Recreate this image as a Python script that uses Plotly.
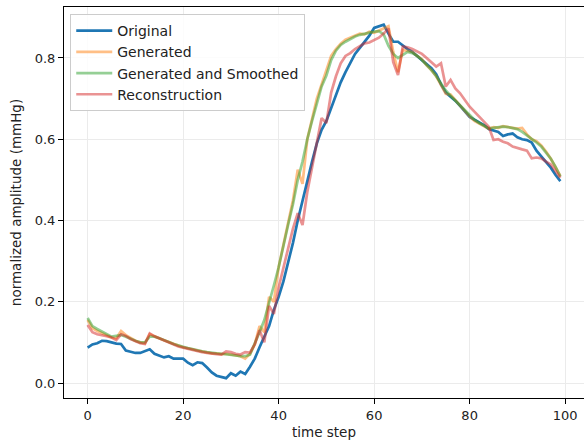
import plotly.graph_objects as go

steps = list(range(100))

original = [
    0.087, 0.095, 0.098, 0.104, 0.103, 0.100, 0.097, 0.096, 0.080, 0.077,
    0.074, 0.074, 0.079, 0.083, 0.072, 0.067, 0.063, 0.066, 0.060, 0.060,
    0.060, 0.050, 0.044, 0.051, 0.049, 0.038, 0.026, 0.018, 0.015, 0.012,
    0.024, 0.018, 0.028, 0.022, 0.040, 0.060, 0.088, 0.112, 0.140, 0.180,
    0.212, 0.250, 0.295, 0.345, 0.400, 0.450, 0.500, 0.545, 0.590, 0.623,
    0.645, 0.675, 0.710, 0.740, 0.765, 0.787, 0.810, 0.825, 0.840, 0.855,
    0.874, 0.878, 0.882, 0.860, 0.840, 0.840, 0.830, 0.822, 0.815, 0.805,
    0.795, 0.785, 0.775, 0.760, 0.735, 0.715, 0.705, 0.695, 0.682, 0.668,
    0.655, 0.648, 0.642, 0.635, 0.625, 0.622, 0.618, 0.608, 0.612, 0.614,
    0.605, 0.600, 0.598, 0.592, 0.572, 0.558, 0.543, 0.530, 0.512, 0.497,
]

generated = [
    0.155, 0.135, 0.128, 0.122, 0.118, 0.112, 0.110, 0.128, 0.118, 0.110,
    0.104, 0.100, 0.098, 0.120, 0.114, 0.110, 0.105, 0.100, 0.095, 0.092,
    0.088, 0.086, 0.083, 0.080, 0.078, 0.076, 0.073, 0.073, 0.071, 0.072,
    0.070, 0.068, 0.066, 0.060, 0.072, 0.095, 0.140, 0.125, 0.212, 0.200,
    0.285, 0.340, 0.395, 0.450, 0.525, 0.490, 0.600, 0.650, 0.700, 0.735,
    0.770, 0.805, 0.822, 0.835, 0.845, 0.850, 0.855, 0.860, 0.858, 0.865,
    0.862, 0.868, 0.872, 0.878, 0.815, 0.765, 0.820, 0.818, 0.815, 0.805,
    0.797, 0.782, 0.770, 0.755, 0.735, 0.712, 0.710, 0.696, 0.683, 0.668,
    0.656, 0.645, 0.638, 0.632, 0.626, 0.630, 0.628, 0.632, 0.630, 0.628,
    0.626, 0.628, 0.612, 0.600, 0.595, 0.585, 0.570, 0.552, 0.530, 0.510,
]

smoothed = [
    0.160, 0.140, 0.133, 0.126, 0.120, 0.114, 0.116, 0.118, 0.114, 0.108,
    0.104, 0.100, 0.100, 0.114, 0.114, 0.110, 0.106, 0.101, 0.096, 0.092,
    0.089, 0.086, 0.083, 0.081, 0.078, 0.076, 0.074, 0.073, 0.072, 0.071,
    0.070, 0.068, 0.066, 0.066, 0.070, 0.100, 0.125, 0.155, 0.195, 0.240,
    0.285, 0.340, 0.390, 0.440, 0.500, 0.545, 0.600, 0.645, 0.690, 0.730,
    0.757, 0.795, 0.818, 0.832, 0.840, 0.847, 0.853, 0.857, 0.860, 0.862,
    0.865, 0.866, 0.858, 0.830, 0.810, 0.800, 0.808, 0.815, 0.812, 0.805,
    0.795, 0.783, 0.770, 0.755, 0.738, 0.720, 0.707, 0.695, 0.683, 0.670,
    0.658, 0.648, 0.640, 0.633, 0.627, 0.628, 0.630, 0.631, 0.630, 0.628,
    0.625, 0.618, 0.610, 0.600, 0.592, 0.582, 0.568, 0.552, 0.532, 0.508,
]

reconstruction = [
    0.143, 0.125, 0.120, 0.118, 0.115, 0.112, 0.106, 0.120, 0.116, 0.108,
    0.102, 0.098, 0.096, 0.122, 0.115, 0.110, 0.105, 0.100, 0.095, 0.090,
    0.087, 0.084, 0.081, 0.078, 0.076, 0.074, 0.072, 0.071, 0.070, 0.078,
    0.076, 0.072, 0.070, 0.076, 0.075, 0.095, 0.130, 0.100, 0.190, 0.170,
    0.235, 0.285, 0.330, 0.380, 0.418, 0.389, 0.470, 0.530, 0.585, 0.652,
    0.640, 0.715, 0.755, 0.787, 0.805, 0.812, 0.822, 0.830, 0.836, 0.838,
    0.845, 0.850, 0.860, 0.873, 0.790, 0.758, 0.828, 0.826, 0.822, 0.815,
    0.810, 0.800, 0.790, 0.779, 0.787, 0.730, 0.746, 0.725, 0.713, 0.695,
    0.680, 0.668, 0.656, 0.645, 0.631, 0.598, 0.600, 0.594, 0.590, 0.582,
    0.578, 0.575, 0.572, 0.553, 0.555, 0.553, 0.545, 0.538, 0.522, 0.505,
]

x_ticks = [0, 20, 40, 60, 80, 100]
y_ticks = [0.0, 0.2, 0.4, 0.6, 0.8]

FONT = "DejaVu Sans"

fig = go.Figure()
fig.add_trace(go.Scatter(x=steps, y=original, mode="lines", name="Original",
                         line=dict(color="#1f77b4", width=2.7)))
fig.add_trace(go.Scatter(x=steps, y=generated, mode="lines", name="Generated",
                         line=dict(color="#ff7f0e", width=2.7), opacity=0.5))
fig.add_trace(go.Scatter(x=steps, y=smoothed, mode="lines", name="Generated and Smoothed",
                         line=dict(color="#2ca02c", width=2.7), opacity=0.5))
fig.add_trace(go.Scatter(x=steps, y=reconstruction, mode="lines", name="Reconstruction",
                         line=dict(color="#d62728", width=2.7), opacity=0.5))

axis_common = dict(
    showline=True, linecolor="black", linewidth=1, mirror=True,
    ticks="outside", ticklen=5, tickcolor="black", tickwidth=1,
    showgrid=True, gridcolor="#ebebeb", gridwidth=1, zeroline=False,
    tickfont=dict(family=FONT, size=13, color="#222"),
)

fig.update_layout(
    width=584, height=444,
    margin=dict(l=64, r=0, t=7, b=46),
    paper_bgcolor="white", plot_bgcolor="white",
    font=dict(family=FONT, size=13, color="#222"),
    showlegend=True,
    legend=dict(
        x=0.012, y=0.982, xanchor="left", yanchor="top",
        bgcolor="rgba(255,255,255,0.85)", bordercolor="#cccccc", borderwidth=1,
        font=dict(family=FONT, size=14, color="#222"),
        tracegroupgap=0, itemwidth=36,
    ),
    xaxis=dict(range=[-4.95, 103.95], tickvals=x_ticks,
               title=dict(text="time step", standoff=5,
                          font=dict(family=FONT, size=13.5, color="#222")),
               **axis_common),
    yaxis=dict(range=[-0.0369, 0.9255], tickvals=y_ticks, tickformat=".1f",
               title=dict(text="normalized amplitude (mmHg)", standoff=9,
                          font=dict(family=FONT, size=13.5, color="#222")),
               **axis_common),
)

fig.write_html("out.html")
